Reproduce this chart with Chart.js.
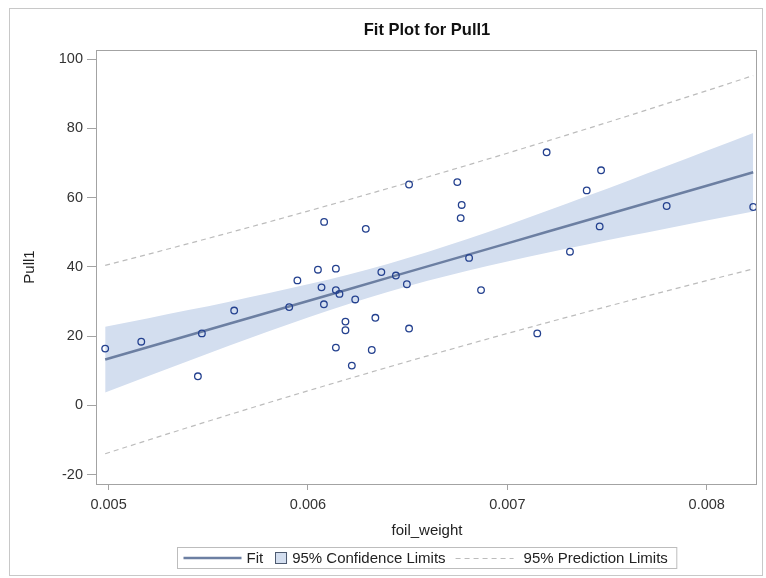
<!DOCTYPE html>
<html>
<head>
<meta charset="utf-8">
<script src="https://cdn.jsdelivr.net/npm/chart.js@4.4.0/dist/chart.umd.min.js"></script>
<style>
  html, body { margin: 0; padding: 0; background: #fff; }
</style>
</head>
<body>
<canvas id="grafica" width="766" height="578"></canvas>
<script>
// observaciones
const pesoFoil = [0.004983, 0.005164, 0.005448, 0.005468, 0.005630, 0.005906, 0.005947, 0.006050,
  0.006140, 0.006068, 0.006140, 0.006158, 0.006080, 0.006237, 0.006188, 0.006188, 0.006140, 0.006220,
  0.006338, 0.006320, 0.006368, 0.006441, 0.006496, 0.006507, 0.006081, 0.006290, 0.006507, 0.006749,
  0.006771, 0.006766, 0.007197, 0.007470, 0.007398, 0.007799, 0.008233, 0.007463, 0.006808, 0.007314,
  0.006868, 0.007150];
const pull1 = [16.4, 18.4, 8.4, 20.8, 27.4, 28.4, 36.1, 39.2,
  39.5, 34.1, 33.3, 32.2, 29.2, 30.6, 24.2, 21.7, 16.7, 11.5,
  25.3, 16.0, 38.5, 37.5, 35.0, 22.2, 53.0, 51.0, 63.8, 64.5,
  57.9, 54.1, 73.1, 67.9, 62.1, 57.6, 57.3, 51.7, 42.6, 44.4,
  33.3, 20.8];

const xBanda = [0.004983, 0.0052, 0.0054, 0.0056, 0.0058, 0.0060, 0.0062, 0.0064, 0.0066,
  0.0068, 0.0070, 0.0072, 0.0074, 0.0076, 0.0078, 0.0080, 0.008233];
const ajuste = [13.24, 16.85, 20.18, 23.51, 26.84, 30.17, 33.49, 36.82, 40.15,
  43.48, 46.81, 50.14, 53.47, 56.80, 60.13, 63.46, 67.34];
const confInf = [3.74, 8.50, 12.84, 17.13, 21.32, 25.38, 29.22, 32.78, 36.00,
  38.91, 41.58, 44.09, 46.49, 48.83, 51.12, 53.38, 55.98];
const confSup = [22.74, 25.20, 27.52, 29.89, 32.36, 34.96, 37.76, 40.86, 44.30,
  48.05, 52.04, 56.19, 60.45, 64.77, 69.14, 73.54, 78.70];
const predInf = [-13.97, -9.98, -6.35, -2.78, 0.75, 4.22, 7.63, 11.00, 14.32,
  17.57, 20.78, 23.93, 27.03, 30.08, 33.08, 36.04, 39.42];
const predSup = [40.45, 43.68, 46.71, 49.80, 52.93, 56.12, 59.35, 62.64, 65.98,
  69.39, 72.84, 76.35, 79.91, 83.52, 87.18, 90.88, 95.26];

const xTicks = [0.005, 0.006, 0.007, 0.008];
const yTicks = [-20, 0, 20, 40, 60, 80, 100];

const FUENTE = '"Liberation Sans", Arial, sans-serif';
const colorPunto = "#24418f";
const colorAjuste = "#6c7fa2";
const colorBanda = "#d3deef";
const colorPred = "#bcbcbc";

function pares(xs, ys) {
    return xs.map((x, i) => ({ x: x, y: ys[i] }));
}

// titulo, marcos y leyenda
const decorado = {
    id: "decorado",
    afterDraw(chart) {
        const ctx = chart.ctx;
        const a = chart.chartArea;
        const cx = (a.left + a.right) / 2;
        ctx.save();

        ctx.strokeStyle = "#c8c8c8";
        ctx.lineWidth = 1;
        ctx.strokeRect(9.5, 8.5, 753, 567);

        ctx.strokeStyle = "#a3a3a3";
        ctx.strokeRect(Math.round(a.left) - 0.5, Math.round(a.top) + 0.5,
            Math.round(a.right - a.left), Math.round(a.bottom - a.top));

        ctx.fillStyle = "#111";
        ctx.font = "bold 16.5px " + FUENTE;
        ctx.textAlign = "center";
        ctx.textBaseline = "middle";
        ctx.fillText("Fit Plot for Pull1", cx, 30);

        // leyenda
        ctx.font = "15px " + FUENTE;
        const t1 = "Fit", t2 = "95% Confidence Limits", t3 = "95% Prediction Limits";
        const w1 = ctx.measureText(t1).width;
        const w2 = ctx.measureText(t2).width;
        const w3 = ctx.measureText(t3).width;
        const ancho = 6 + 58 + 5 + w1 + 12 + 12 + 5 + w2 + 10 + 58 + 10 + w3 + 9;
        const x0 = Math.round(cx - ancho / 2) + 0.5;
        const y0 = 547.5, alto = 21, ym = y0 + alto / 2;
        ctx.strokeStyle = "#bdbdbd";
        ctx.strokeRect(x0, y0, ancho, alto);

        let x = x0 + 6;
        ctx.strokeStyle = colorAjuste;
        ctx.lineWidth = 2.5;
        ctx.beginPath(); ctx.moveTo(x, ym); ctx.lineTo(x + 58, ym); ctx.stroke();
        x += 58 + 5;
        ctx.fillStyle = "#222";
        ctx.textAlign = "left";
        ctx.fillText(t1, x, ym + 1);
        x += w1 + 12;
        ctx.fillStyle = colorBanda;
        ctx.fillRect(x, ym - 6, 12, 12);
        ctx.strokeStyle = "#4d5a70";
        ctx.lineWidth = 1;
        ctx.strokeRect(Math.round(x) + 0.5, Math.round(ym - 6) + 0.5, 11, 11);
        x += 12 + 5;
        ctx.fillStyle = "#222";
        ctx.fillText(t2, x, ym + 1);
        x += w2 + 10;
        ctx.strokeStyle = colorPred;
        ctx.setLineDash([5, 4]);
        ctx.beginPath(); ctx.moveTo(x, ym + 0.5); ctx.lineTo(x + 58, ym + 0.5); ctx.stroke();
        ctx.setLineDash([]);
        x += 58 + 10;
        ctx.fillText(t3, x, ym + 1);

        ctx.restore();
    }
};

Chart.defaults.font.family = FUENTE;

const ctx = document.getElementById("grafica").getContext("2d");
new Chart(ctx, {
    type: "line",
    data: {
        datasets: [
            {
                label: "Pull1",
                data: pares(pesoFoil, pull1),
                showLine: false,
                pointStyle: "circle",
                pointRadius: 3.3,
                pointBorderWidth: 1.3,
                pointBorderColor: colorPunto,
                pointBackgroundColor: "rgba(0,0,0,0)"
            },
            {
                label: "Fit",
                data: pares(xBanda, ajuste),
                borderColor: colorAjuste,
                borderWidth: 2.5,
                pointRadius: 0,
                fill: false
            },
            {
                label: "95% Prediction Limits",
                data: pares(xBanda, predSup),
                borderColor: colorPred,
                borderWidth: 1.2,
                borderDash: [5, 4],
                pointRadius: 0,
                fill: false
            },
            {
                label: "pred inf",
                data: pares(xBanda, predInf),
                borderColor: colorPred,
                borderWidth: 1.2,
                borderDash: [5, 4],
                pointRadius: 0,
                fill: false
            },
            {
                label: "conf inf",
                data: pares(xBanda, confInf),
                borderWidth: 0,
                borderColor: "rgba(0,0,0,0)",
                pointRadius: 0,
                cubicInterpolationMode: "monotone",
                fill: false
            },
            {
                label: "95% Confidence Limits",
                data: pares(xBanda, confSup),
                borderWidth: 0,
                borderColor: "rgba(0,0,0,0)",
                backgroundColor: colorBanda,
                pointRadius: 0,
                cubicInterpolationMode: "monotone",
                fill: "-1"
            }
        ]
    },
    options: {
        responsive: false,
        animation: false,
        devicePixelRatio: 1,
        layout: { padding: { top: 50, right: 9, bottom: 0, left: 0 } },
        plugins: {
            legend: { display: false },
            title: { display: false },
            tooltip: { enabled: false }
        },
        scales: {
            x: {
                type: "linear",
                position: "bottom",
                min: 0.004942,
                max: 0.008252,
                afterBuildTicks: s => { s.ticks = xTicks.map(v => ({ value: v })); },
                afterFit: s => { s.height = 94; },
                border: { display: false },
                grid: { drawOnChartArea: false, drawTicks: true, tickLength: 6, color: "#a3a3a3" },
                ticks: {
                    callback: v => v.toFixed(3),
                    font: { size: 14.5 },
                    color: "#333",
                    padding: 6,
                    maxRotation: 0
                },
                title: {
                    display: true,
                    text: "foil_weight",
                    font: { size: 15 },
                    color: "#222",
                    padding: { top: 0, bottom: 38 }
                }
            },
            y: {
                type: "linear",
                min: -22.7,
                max: 102.65,
                afterBuildTicks: s => { s.ticks = yTicks.map(v => ({ value: v })); },
                afterFit: s => { s.width = 97; },
                border: { display: false },
                grid: { drawOnChartArea: false, drawTicks: true, tickLength: 10, color: "#a3a3a3" },
                ticks: {
                    font: { size: 14.5 },
                    color: "#333",
                    padding: 4
                },
                title: {
                    display: true,
                    text: "Pull1",
                    font: { size: 15 },
                    color: "#222",
                    padding: { top: 21, bottom: 0 }
                }
            }
        }
    },
    plugins: [decorado]
});
</script>
</body>
</html>
